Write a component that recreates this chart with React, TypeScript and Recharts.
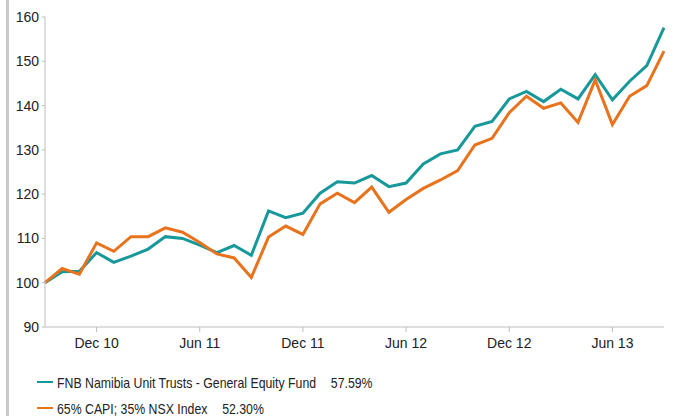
import { LineChart, Line, XAxis, YAxis } from "recharts";

// month labels, Sep 2010 .. Sep 2013
const months = [
  "Sep 10", "Oct 10", "Nov 10", "Dec 10", "Jan 11", "Feb 11", "Mar 11", "Apr 11", "May 11",
  "Jun 11", "Jul 11", "Aug 11", "Sep 11", "Oct 11", "Nov 11", "Dec 11", "Jan 12", "Feb 12",
  "Mar 12", "Apr 12", "May 12", "Jun 12", "Jul 12", "Aug 12", "Sep 12", "Oct 12", "Nov 12",
  "Dec 12", "Jan 13", "Feb 13", "Mar 13", "Apr 13", "May 13", "Jun 13", "Jul 13", "Aug 13",
  "Sep 13",
];

const fund = [
  100, 102.5, 102.6, 106.8, 104.6, 106.0, 107.6, 110.4, 110.0, 108.5, 106.8, 108.4, 106.2,
  116.2, 114.7, 115.7, 120.2, 122.8, 122.5, 124.2, 121.7, 122.5, 126.8, 129.1, 130.0, 135.3,
  136.4, 141.5, 143.2, 140.9, 143.7, 141.5, 147.0, 141.3, 145.5, 149.0, 157.6,
];

const benchmark = [
  100, 103.2, 101.9, 109.0, 107.1, 110.4, 110.4, 112.4, 111.4, 109.1, 106.5, 105.6, 101.2,
  110.3, 112.8, 110.9, 117.8, 120.2, 118.1, 121.6, 115.9, 118.8, 121.3, 123.2, 125.3, 131.1,
  132.6, 138.4, 142.1, 139.4, 140.6, 136.2, 145.8, 135.7, 142.1, 144.5, 152.3,
];

const xTickLabels = ["Dec 10", "Jun 11", "Dec 11", "Jun 12", "Dec 12", "Jun 13"];
const yTicks = [90, 100, 110, 120, 130, 140, 150, 160];

const series = [
  { key: "fund", name: "FNB Namibia Unit Trusts - General Equity Fund", pct: "57.59%", color: "#17989a" },
  { key: "benchmark", name: "65% CAPI; 35% NSX Index", pct: "52.30%", color: "#e8731c" },
];

const data = months.map((m, i) => ({ idx: i, month: m, fund: fund[i], benchmark: benchmark[i] }));
const xTicks = xTickLabels.map((l) => months.indexOf(l));

const FONT = "'Liberation Sans', Arial, sans-serif";

export default function App() {
  return (
    <div style={{ position: "absolute", left: 0, top: 0, width: 675, height: 416, background: "#fff", fontFamily: FONT }}>
      <div style={{ position: "absolute", left: 6, top: 0, width: 3, height: 416, background: "#cacaca" }} />
      <LineChart width={675} height={350} data={data} margin={{ top: 17, right: 11, left: 0, bottom: 0 }}>
        <XAxis
          dataKey="idx"
          type="number"
          domain={[0, months.length - 1]}
          ticks={xTicks}
          tickFormatter={(v) => months[v]}
          height={23}
          stroke="#bdbdbd"
          tickSize={5}
          tickMargin={6}
          tick={{ fill: "#222", fontSize: 14, fontFamily: FONT }}
        />
        <YAxis
          type="number"
          domain={[90, 160]}
          ticks={yTicks}
          width={45}
          stroke="#bdbdbd"
          tickSize={3}
          tickMargin={3}
          tick={{ fill: "#222", fontSize: 14, fontFamily: FONT }}
        />
        {series.map((s) => (
          <Line
            key={s.key}
            dataKey={s.key}
            stroke={s.color}
            strokeWidth={3}
            dot={false}
            type="linear"
            isAnimationActive={false}
          />
        ))}
      </LineChart>
      <div style={{ position: "absolute", left: 37, top: 369 }}>
        {series.map((s) => (
          <div key={s.key} style={{ display: "flex", alignItems: "center", height: 26, fontSize: 15, color: "#222", whiteSpace: "nowrap" }}>
            <span style={{ display: "inline-block", width: 16, height: 2, background: s.color, marginRight: 4 }} />
            <span style={{ display: "inline-block", transform: "scaleX(0.82)", transformOrigin: "left center" }}>
              {s.name}
              <span style={{ marginLeft: 18 }}>{s.pct}</span>
            </span>
          </div>
        ))}
      </div>
    </div>
  );
}
